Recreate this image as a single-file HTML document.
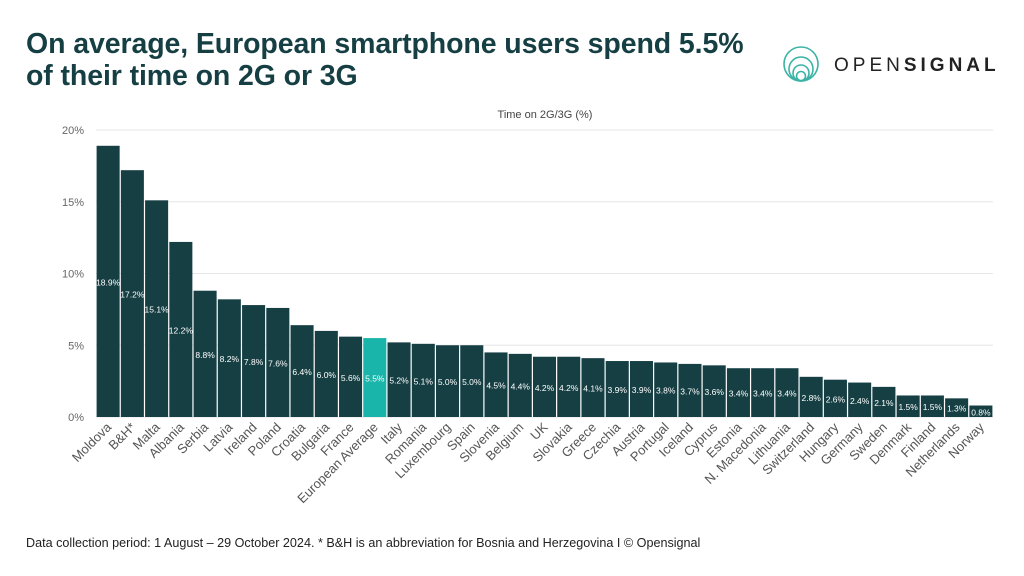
<!DOCTYPE html>
<html><head><meta charset="utf-8"><style>
body{margin:0;width:1024px;height:576px;background:#fff;font-family:"Liberation Sans",sans-serif;overflow:hidden;position:relative}
#title{position:absolute;left:26px;top:28px;font-size:28.5px;font-weight:bold;color:#163f44;line-height:32px;letter-spacing:-0.1px}
#foot{position:absolute;left:26px;top:536px;font-size:12.6px;color:#222}
#logo{position:absolute;left:783px;top:44px}
svg text{font-family:"Liberation Sans",sans-serif}
</style></head><body>
<div id="title">On average, European smartphone users spend 5.5%<br>of their time on 2G or 3G</div>
<svg id="logo" width="230" height="44">
<g fill="none" stroke="#3bb3a5" stroke-width="1.6"><circle cx="18" cy="20" r="17"/><circle cx="18" cy="25" r="12"/><circle cx="18" cy="29" r="8"/><circle cx="18" cy="32" r="4.5"/></g>
<text x="51" y="27" font-size="19" fill="#222" letter-spacing="4">OPEN<tspan font-weight="bold">SIGNAL</tspan></text>
</svg>
<svg id="chart" width="1024" height="576" style="position:absolute;left:0;top:0"></svg>
<div id="foot">Data collection period: 1 August – 29 October 2024. * B&amp;H is an abbreviation for Bosnia and Herzegovina I © Opensignal</div>
<script>
const categories=["Moldova","B&H*","Malta","Albania","Serbia","Latvia","Ireland","Poland","Croatia","Bulgaria","France","European Average","Italy","Romania","Luxembourg","Spain","Slovenia","Belgium","UK","Slovakia","Greece","Czechia","Austria","Portugal","Iceland","Cyprus","Estonia","N. Macedonia","Lithuania","Switzerland","Hungary","Germany","Sweden","Denmark","Finland","Netherlands","Norway"];
const values=[18.9,17.2,15.1,12.2,8.8,8.2,7.8,7.6,6.4,6.0,5.6,5.5,5.2,5.1,5.0,5.0,4.5,4.4,4.2,4.2,4.1,3.9,3.9,3.8,3.7,3.6,3.4,3.4,3.4,2.8,2.6,2.4,2.1,1.5,1.5,1.3,0.8];
const yTicks=[0,5,10,15,20];
const NS="http://www.w3.org/2000/svg";
const svg=document.getElementById('chart');
const x0=96,x1=993,y0=417,y20=130;
const step=(x1-x0)/categories.length;
const y=v=>y0-(v/20)*(y0-y20);
const x=i=>x0+i*step;
function mk(t,a){const e=document.createElementNS(NS,t);for(const k in a)e.setAttribute(k,a[k]);svg.appendChild(e);return e;}
const st=mk('text',{x:545,y:118,'font-size':11,fill:'#444','text-anchor':'middle'});


st.textContent='Time on 2G/3G (%)';
yTicks.forEach(t=>{
 const l=mk('line',{x1:x0,x2:x1,y1:y(t),y2:y(t),stroke:'#e6e6e6','stroke-width':1});
 
 
 const tx=mk('text',{x:84,y:y(t)+4,'font-size':11,fill:'#666','text-anchor':'end'});
 
 
 tx.textContent=t+'%';
});
values.forEach((v,i)=>{
 const avg=categories[i]==="European Average";
 const r=mk('rect',{x:x(i)+0.6,y:y(v),width:step-1.2,height:y0-y(v),fill:avg?'#1ab5aa':'#163f44'});
 
 
 const ly=Math.max((y(v)+y0)/2,y(v)+6)+4;
 const t=mk('text',{x:x(i)+step/2,y:ly,'font-size':8.5,fill:'#fff','text-anchor':'middle'});
 
 
 t.textContent=v.toFixed(1)+'%';
 const cx=x(i)+step/2+4,cy=y0+11;
 const c=mk('text',{x:cx,y:cy,'font-size':13,fill:'#555','text-anchor':'end',transform:`rotate(-45 ${cx} ${cy})`});
 
 
 c.textContent=categories[i];
});
</script>
</body></html>
